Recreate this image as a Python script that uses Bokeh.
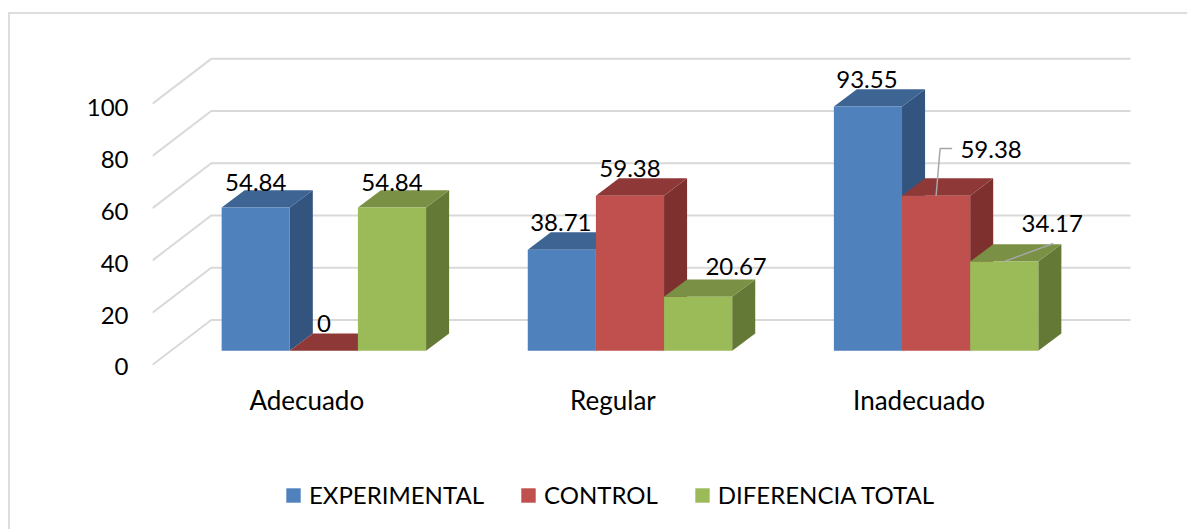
from bokeh.plotting import figure
from bokeh.embed import file_html
from bokeh.resources import INLINE
from bokeh.models import (Range1d, LinearAxis, FixedTicker, Legend, LegendItem)
from bokeh.core.properties import value

categories = ["Adecuado", "Regular", "Inadecuado"]
series_names = ["EXPERIMENTAL", "CONTROL", "DIFERENCIA TOTAL"]
experimental = [54.84, 38.71, 93.55]
control = [0, 59.38, 59.38]
diferencia = [54.84, 20.67, 34.17]
y_ticks = [0, 20, 40, 60, 80, 100]
front_colors = ["#4F81BD", "#C0504D", "#9BBB59"]
top_colors = ["#3D6493", "#8E3937", "#7A9145"]
side_colors = ["#33547E", "#7D302E", "#657936"]
FONT = "Lato"
FS = "24px"

# pixel scale of the drawing
OX, OY = 10, 14                       # canvas origin in the image
W, H = 1187 - OX, 529 - OY
L, R, T, B = 153, 1135, 50, 525      # frame in image pixels
PX_X = 305.5                          # pixels per category
PX_Y = 2.6                            # pixels per unit
X0, Y0 = 324.0, 350.0                 # image pixel of category 0 centre, value 0 on the bars' front

dx = 1 / PX_X
dy = 1 / PX_Y
BAR = 68 * dx
DEPTH_X, DEPTH_Y = 23 * dx, 17.3 * dy

p = figure(width=W, height=H, output_backend="svg", toolbar_location=None,
           x_range=Range1d((L - X0) * dx, (R - X0) * dx),
           y_range=Range1d((Y0 - B) * dy, (Y0 - T) * dy),
           x_axis_type=None, y_axis_type=None,
           min_border_left=L - OX - 1, min_border_right=OX + W - R + 1,
           min_border_top=T - OY - 1, min_border_bottom=OY + H - B + 1)
p.margin = (OY - 2, 0, 0, OX - 2)
p.styles = {"border-top": "2px solid #DDDDDD", "border-left": "2px solid #DDDDDD",
            "box-sizing": "content-box"}
p.grid.visible = False
p.outline_line_color = None
p.background_fill_color = "white"
p.border_fill_color = "white"

# walls: gridlines on the back wall, slants on the side wall
GRID = "#D9D9D9"
back_x = (211.6 - X0) * dx
end_x = (1129 - X0) * dx
front_x = (153 - X0) * dx
back_shift = (350 - 319.3) * dy
front_shift = (350 - 364) * dy
for v in y_ticks:
    p.line([front_x, back_x, end_x], [v + front_shift, v + back_shift, v + back_shift],
           line_color=GRID, line_width=2)

# bars: each drawn left to right so that nearer neighbours overlap the sides
values = [experimental, control, diferencia]
legend_items = []
for c in range(len(categories)):
    for s in range(3):
        v = values[s][c]
        l = c + (s - 1.5) * BAR
        r = l + BAR
        p.patch([r, r + DEPTH_X, r + DEPTH_X, r], [0, DEPTH_Y, v + DEPTH_Y, v],
                fill_color=side_colors[s], line_color=None)
        p.patch([l, l + DEPTH_X, r + DEPTH_X, r], [v, v + DEPTH_Y, v + DEPTH_Y, v],
                fill_color=top_colors[s], line_color=None)
        fr = p.quad(left=l, right=r, bottom=0, top=v, fill_color=front_colors[s],
                    line_color=None)
        if c == 0:
            legend_items.append(LegendItem(label=series_names[s], renderers=[fr]))

# leader lines
def lead(c, s, v, pts):
    xc = c + (s - 1) * BAR
    p.line([xc + a * dx for a, _ in pts], [v + b * dy for _, b in pts],
           line_color="#A6A6A6", line_width=1.5)

lead(2, 1, control[2], [(0, 0), (4, 47), (16, 47)])
lead(2, 2, diferencia[2], [(0, 0), (49, 18)])

# data labels: offset of centre and of baseline from the front top of the bar
offsets = [[(0, 25), (0, 27), (0, 25)],
           [(-1, 27), (0, 27), (38, 30)],
           [(-1, 27), (55, 46), (48, 38)]]
for c in range(3):
    for s in range(3):
        v = values[s][c]
        ox, oy = offsets[c][s]
        p.text([c + (s - 1) * BAR], [v], text=[("%g" % v)], x_offset=ox, y_offset=-oy,
               text_align="center", text_baseline="alphabetic",
               text_font=value(FONT), text_font_size=FS, text_color="black")

# axes
p.extra_y_ranges["val"] = Range1d((366 - B) / 2.58, (366 - T) / 2.58)
ya = LinearAxis(y_range_name="val", ticker=FixedTicker(ticks=y_ticks),
                axis_line_color=None, major_tick_line_color=None, minor_tick_line_color=None,
                major_label_standoff=18, major_label_text_font=FONT,
                major_label_text_font_size=FS, major_label_text_color="black")
p.add_layout(ya, "left")

p.extra_x_ranges["cat"] = Range1d((L - 307) * dx, (R - 307) * dx)
xa = LinearAxis(x_range_name="cat", ticker=FixedTicker(ticks=[0, 1, 2]),
                major_label_overrides={i: n for i, n in enumerate(categories)},
                axis_line_color=None, major_tick_line_color=None, minor_tick_line_color=None,
                major_label_standoff=-149, major_label_text_font=FONT,
                major_label_text_font_size="26px", major_label_text_color="black")
p.add_layout(xa, "below")

legend = Legend(items=legend_items, orientation="horizontal", location=(132, 17),
                background_fill_alpha=0, border_line_color=None, label_text_font=FONT,
                label_text_font_size=FS, label_text_color="black", glyph_width=18,
                glyph_height=18, label_standoff=7, spacing=35, margin=0, padding=0)
p.add_layout(legend, "center")

open("out.html", "w").write(file_html(p, INLINE))
